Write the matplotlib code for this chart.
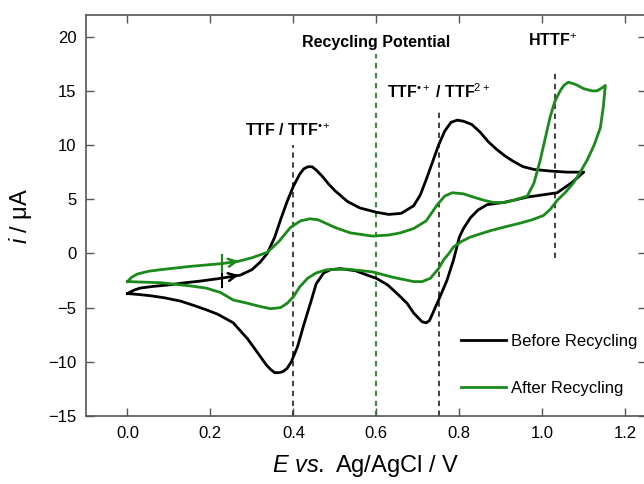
import numpy as np
import matplotlib
matplotlib.use("Agg")
import matplotlib.pyplot as plt

plt.rcParams['font.family'] = ['Liberation Sans', 'DejaVu Sans']
plt.rcParams['mathtext.fontset'] = 'custom'
plt.rcParams['mathtext.rm'] = 'Liberation Sans'
plt.rcParams['mathtext.it'] = 'Liberation Sans:italic'
plt.rcParams['mathtext.bf'] = 'Liberation Sans:bold'

# Before Recycling: forward scan then reverse scan (V, uA)
before_v = [0.00, 0.015, 0.03, 0.06, 0.10, 0.14, 0.176, 0.224, 0.272, 0.30, 0.32, 0.337,
            0.355, 0.369, 0.385, 0.40, 0.415, 0.425, 0.435, 0.445, 0.455, 0.47, 0.485, 0.50,
            0.53, 0.56, 0.60, 0.63, 0.66, 0.69, 0.706, 0.72, 0.737, 0.75, 0.765, 0.78,
            0.795, 0.81, 0.83, 0.85, 0.87, 0.89, 0.91, 0.93, 0.954, 0.98, 1.02, 1.06, 1.10,
            1.07, 1.036, 1.00, 0.964, 0.93, 0.906, 0.867, 0.845, 0.827, 0.81, 0.80, 0.786,
            0.77, 0.75, 0.735, 0.728, 0.72, 0.71, 0.70, 0.69, 0.674, 0.65, 0.627, 0.60,
            0.578, 0.55, 0.513, 0.49, 0.473, 0.455, 0.441, 0.425, 0.41, 0.395, 0.385, 0.375,
            0.365, 0.355, 0.345, 0.335, 0.32, 0.29, 0.255, 0.217, 0.19, 0.16, 0.128, 0.09,
            0.055, 0.03, 0.00]
before_i = [-3.7, -3.4, -3.2, -3.05, -2.9, -2.7, -2.55, -2.3, -2.0, -1.5, -0.8, 0.0,
            1.5, 3.1, 4.8, 6.2, 7.3, 7.8, 8.0, 8.0, 7.7, 7.1, 6.4, 5.8,
            4.8, 4.2, 3.8, 3.6, 3.7, 4.4, 5.4, 6.8, 8.6, 10.0, 11.3, 12.1,
            12.3, 12.2, 11.9, 11.2, 10.3, 9.6, 9.0, 8.5, 8.0, 7.75, 7.6, 7.5, 7.5,
            6.5, 5.6, 5.4, 5.2, 4.9, 4.7, 4.5, 4.0, 3.3, 2.3, 1.5, -0.6,
            -2.5, -4.3, -5.6, -6.2, -6.4, -6.3, -5.9, -5.5, -4.6, -3.7, -2.9, -2.3,
            -2.0, -1.6, -1.4, -1.5, -1.8, -2.8, -4.6, -6.6, -8.6, -10.0, -10.6, -10.9,
            -11.0, -11.0, -10.7, -10.3, -9.5, -7.9, -6.4, -5.6, -5.2, -4.8, -4.4, -4.1,
            -3.9, -3.8, -3.7]
before_fwd = 49  # points in the forward scan

# After Recycling
after_v = [0.00, 0.01, 0.024, 0.05, 0.08, 0.15, 0.224, 0.265, 0.30, 0.337, 0.365, 0.393,
           0.417, 0.44, 0.46, 0.50, 0.537, 0.59, 0.63, 0.658, 0.69, 0.72, 0.747, 0.765,
           0.783, 0.81, 0.834, 0.86, 0.882, 0.91, 0.93, 0.964, 0.98, 0.995, 1.007, 1.019,
           1.03, 1.043, 1.052, 1.063, 1.08, 1.10, 1.12, 1.132, 1.145, 1.152,
           1.147, 1.14, 1.125, 1.108, 1.09, 1.075, 1.055, 1.036, 1.02, 1.003, 0.975, 0.947,
           0.91, 0.875, 0.85, 0.826, 0.805, 0.786, 0.775, 0.762, 0.75, 0.73, 0.71, 0.69,
           0.665, 0.64, 0.59, 0.53, 0.48, 0.455, 0.434, 0.415, 0.40, 0.385, 0.369, 0.345,
           0.32, 0.29, 0.255, 0.224, 0.19, 0.152, 0.08, 0.00]
after_i = [-2.6, -2.2, -1.9, -1.65, -1.5, -1.2, -0.95, -0.75, -0.4, 0.1, 1.1, 2.4,
           3.0, 3.2, 3.1, 2.4, 1.9, 1.6, 1.7, 1.9, 2.3, 3.0, 4.5, 5.3,
           5.6, 5.5, 5.2, 4.9, 4.7, 4.7, 4.9, 5.3, 6.5, 8.6, 10.6, 12.6,
           14.0, 15.0, 15.5, 15.8, 15.6, 15.2, 15.0, 15.0, 15.3, 15.5,
           13.5, 11.6, 10.0, 8.6, 7.4, 6.5, 5.6, 4.9, 4.1, 3.5, 3.1, 2.8,
           2.45, 2.1, 1.8, 1.5, 1.1, 0.6, 0.0, -0.6, -1.4, -2.3, -2.6, -2.6,
           -2.4, -2.2, -1.7, -1.45, -1.5, -1.8, -2.3, -3.1, -4.0, -4.6, -5.0, -5.1,
           -4.9, -4.6, -4.3, -3.6, -3.2, -3.0, -2.7, -2.6]
after_fwd = 46

# scan-direction marks on the forward branches
cross_v = 0.229
arrow_v = 0.275

# dashed guide lines: (potential, lower end, upper end)
guide_black = [(0.40, -15, 10.0), (0.75, -15, 13.3), (1.031, -0.4, 16.9)]
guide_green = (0.60, -15, 18.4)

fig = plt.figure(figsize=(6.44, 4.84), dpi=100)
ax = fig.add_axes([0.1335, 0.1405, 0.8696, 0.8285])

black = '#000000'
green = '#1a8a1a'

ax.plot(before_v, before_i, color=black, lw=2.0, label='Before Recycling', zorder=3)
ax.plot(after_v, after_i, color=green, lw=2.0, label='After Recycling', zorder=3)

for v, lo, hi in guide_black:
    ax.plot([v, v], [lo, hi], color='#333333', lw=1.3, ls=(0, (3, 2.5)), zorder=2)
ax.plot([guide_green[0]] * 2, guide_green[1:], color=green, lw=1.3, ls=(0, (3, 2.5)), zorder=2)

for vv, ii, nf, col in [(before_v, before_i, before_fwd, black), (after_v, after_i, after_fwd, green)]:
    fv = np.array(vv[:nf])
    fi = np.array(ii[:nf])
    yc = np.interp(cross_v, fv, fi)
    ax.plot([cross_v, cross_v], [yc - 0.8, yc + 0.8], color=col, lw=1.5, zorder=4)
    ya = np.interp(arrow_v, fv, fi)
    yb = np.interp(arrow_v - 0.03, fv, fi)
    ax.annotate('', xy=(arrow_v, ya), xytext=(arrow_v - 0.03, yb),
                arrowprops=dict(arrowstyle='->', color=col, lw=1.8, mutation_scale=14), zorder=4)

ax.text(0.60, 19.5, 'Recycling Potential', ha='center', va='center', fontsize=11.5, fontweight='bold')
ax.text(1.024, 19.6, r'HTTF$^{+}$', ha='center', va='center', fontsize=11.5, fontweight='bold')
ax.text(0.75, 14.9, r'TTF$^{•+}$ / TTF$^{2+}$', ha='center', va='center', fontsize=11.5, fontweight='bold')
ax.text(0.388, 11.3, r'TTF / TTF$^{•+}$', ha='center', va='center', fontsize=11.5, fontweight='bold')

ax.set_xlim(-0.1, 1.25)
ax.set_ylim(-15, 22)
ax.set_xticks(np.arange(0, 1.21, 0.2))
ax.set_xticklabels(['0.0', '0.2', '0.4', '0.6', '0.8', '1.0', '1.2'])
ax.set_yticks(np.arange(-15, 21, 5))
ax.tick_params(direction='in', top=True, right=True, length=6, width=1, color='#555555',
               labelsize=12, pad=7)
for s in ax.spines.values():
    s.set_color('#555555')
    s.set_linewidth(1.2)

ax.set_xlabel(r'$\it{E}$ $\it{vs.}$ Ag/AgCl / V', fontsize=17, labelpad=9)
ax.set_ylabel(r'$\it{i}$ / μA', fontsize=17, labelpad=10)

ax.legend(loc='lower right', bbox_to_anchor=(0.985, 0.05), frameon=False, fontsize=12,
          handlelength=2.7, handletextpad=0.3, labelspacing=1.9, borderpad=0, borderaxespad=0)

fig.savefig('out.png', dpi=100)
